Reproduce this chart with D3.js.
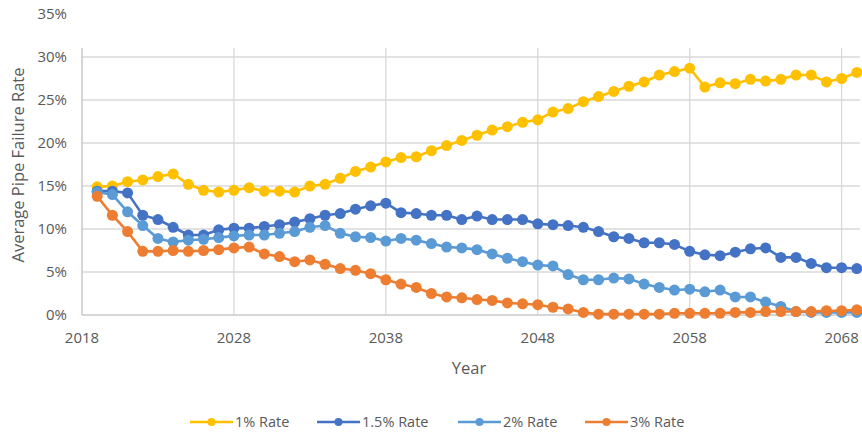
<!DOCTYPE html>
<html>
<head>
<meta charset="utf-8">
<script src="https://cdn.jsdelivr.net/npm/d3@7"></script>
<style>
  body { margin: 0; background: #fff; }
  text { font-family: "Open Sans", "Noto Sans", sans-serif; fill: #595959; }
</style>
</head>
<body>
<div id="chart"></div>
<script>
// years 2019..2069, one value per year (percent)
let years = d3.range(2019, 2070);
let seriesNames = ["1% Rate", "1.5% Rate", "2% Rate", "3% Rate"];
let seriesColors = ["#FFC000", "#4472C4", "#5B9BD5", "#ED7D31"];

let rate1 = [14.9,15.0,15.5,15.7,16.1,16.4,15.2,14.5,14.3,14.5,14.8,14.4,14.4,
  14.3,15.0,15.2,15.9,16.7,17.2,17.8,18.3,18.4,19.1,19.7,20.3,20.9,
  21.5,21.9,22.4,22.7,23.6,24.0,24.8,25.4,26.0,26.6,27.1,27.9,
  28.3,28.7,26.5,27.0,26.9,27.4,27.2,27.4,27.9,27.9,27.1,27.5,28.2];
let rate15 = [14.4,14.4,14.2,11.6,11.1,10.2,9.3,9.3,9.9,10.1,10.1,10.3,10.5,
  10.8,11.2,11.6,11.8,12.3,12.7,13.0,11.9,11.8,11.6,11.6,
  11.1,11.5,11.1,11.1,11.1,10.6,10.5,10.4,10.2,9.7,9.1,8.9,8.4,8.4,8.2,
  7.4,7.0,6.9,7.3,7.7,7.8,6.7,6.7,6.0,5.5,5.5,5.4];
let rate2 = [14.3,14.0,12.0,10.4,8.9,8.5,8.7,8.8,9.0,9.2,9.3,9.3,9.5,
  9.7,10.2,10.4,9.5,9.1,9.0,8.6,8.9,8.7,8.3,7.9,7.8,7.6,
  7.1,6.6,6.2,5.8,5.7,4.7,4.1,4.1,4.3,4.2,3.6,3.2,
  2.9,3.0,2.7,2.9,2.1,2.1,1.5,1.0,0.4,0.3,0.3,0.3,0.3];
let rate3 = [13.8,11.6,9.7,7.4,7.4,7.5,7.4,7.5,7.6,7.8,7.9,7.1,6.8,
  6.2,6.4,5.9,5.4,5.2,4.8,4.1,3.6,3.2,2.5,2.1,
  2.0,1.8,1.7,1.4,1.3,1.2,0.9,0.7,0.3,0.1,0.1,0.1,0.1,0.1,0.2,0.2,0.2,0.2,
  0.3,0.3,0.4,0.4,0.4,0.4,0.5,0.5,0.6];
let allSeries = [rate1, rate15, rate2, rate3];

let xTicks = [2018, 2028, 2038, 2048, 2058, 2068];
let yTicks = [0, 5, 10, 15, 20, 25, 30, 35];

let w = 862, h = 433;
let svg = d3.select("#chart").append("svg").attr("width", w).attr("height", h);

let x = d3.scaleLinear().domain([2018, 2070]).range([82, 872]);
let y = d3.scaleLinear().domain([0, 35]).range([315, 14]);
let plotTop = 48, plotRight = 860;

// gridlines
svg.append("g").selectAll("line.hg")
  .data(yTicks.filter(d => d > 0 && d < 35))
  .enter().append("line")
  .attr("x1", x(2018)).attr("x2", plotRight)
  .attr("y1", d => y(d)).attr("y2", d => y(d))
  .style("stroke", "#d9d9d9").style("stroke-width", 1.3);

svg.append("g").selectAll("line.vg")
  .data(xTicks.filter(d => d > 2018))
  .enter().append("line")
  .attr("x1", d => x(d)).attr("x2", d => x(d))
  .attr("y1", plotTop).attr("y2", y(0))
  .style("stroke", "#d9d9d9").style("stroke-width", 1.3);

// axis lines
svg.append("line").attr("x1", x(2018)).attr("x2", x(2018))
  .attr("y1", plotTop).attr("y2", y(0)).style("stroke", "#c8c8c8").style("stroke-width", 1.5);
svg.append("line").attr("x1", x(2018)).attr("x2", plotRight)
  .attr("y1", y(0)).attr("y2", y(0)).style("stroke", "#c8c8c8").style("stroke-width", 1.5);

// tick labels
svg.append("g").selectAll("text")
  .data(yTicks).enter().append("text")
  .attr("x", 67).attr("y", d => y(d))
  .attr("dy", "0.35em").attr("text-anchor", "end")
  .style("font-size", "15px")
  .text(d => d + "%");

svg.append("g").selectAll("text")
  .data(xTicks).enter().append("text")
  .attr("x", d => x(d)).attr("y", 338)
  .attr("dy", "0.35em").attr("text-anchor", "middle")
  .style("font-size", "15px")
  .text(d => d);

// axis titles
svg.append("text").attr("x", 469).attr("y", 368).attr("dy", "0.35em")
  .attr("text-anchor", "middle").style("font-size", "16.5px").text("Year");
svg.append("text").attr("transform", "translate(18,165) rotate(-90)")
  .attr("dy", "0.35em").attr("text-anchor", "middle")
  .style("font-size", "16.5px").text("Average Pipe Failure Rate");

// series
let line = d3.line().x((d, i) => x(years[i])).y(d => y(d));
allSeries.forEach(function(vals, k) {
  let g = svg.append("g");
  g.append("path").datum(vals).attr("d", line)
    .style("fill", "none").style("stroke", seriesColors[k]).style("stroke-width", 2.6);
  g.selectAll("circle").data(vals).enter().append("circle")
    .attr("cx", (d, i) => x(years[i])).attr("cy", d => y(d)).attr("r", 5.5)
    .style("fill", seriesColors[k]);
});

// legend
let legX = [190, 317, 458, 585];
seriesNames.forEach(function(name, k) {
  let g = svg.append("g").attr("transform", "translate(" + legX[k] + ",422)");
  g.append("line").attr("x1", 0).attr("x2", 43).attr("y1", 0).attr("y2", 0)
    .style("stroke", seriesColors[k]).style("stroke-width", 2.6);
  g.append("circle").attr("cx", 21.5).attr("cy", 0).attr("r", 4).style("fill", seriesColors[k]);
  g.append("text").attr("x", 45).attr("y", 0).attr("dy", "0.35em")
    .style("font-size", "14.5px").text(name);
});
</script>
</body>
</html>
